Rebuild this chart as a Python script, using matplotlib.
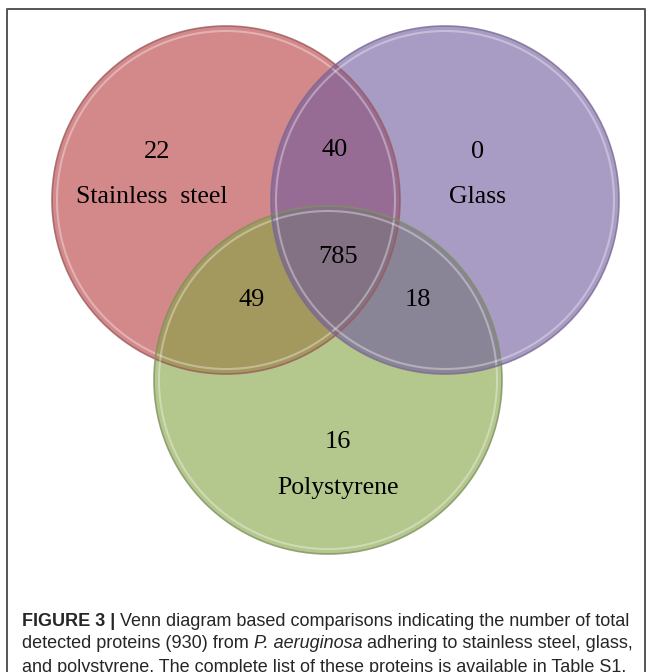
#Venn diagram of proteins found on the three surfaces.
import matplotlib.pyplot as plt
from matplotlib.patches import Circle

#set names and the region counts
sets = ["Stainless steel", "Glass", "Polystyrene"]
only_counts = [22, 0, 16]
pair_labels = ["ss_glass", "ss_ps", "glass_ps"]
pair_counts = [40, 49, 18]
all_count = 785

#layout in pixel coordinates of the 652x672 image
centres = [(226, 200), (445, 200), (328, 380)]
radius = 174
fills = ["#b7393d", "#6e5a9e", "#83a33f"]
edges = ["#9a5a5c", "#7a6a94", "#7f9060"]
draw_order = [0, 2, 1]
only_pos = [(157, 152), (478, 152), (338, 442)]
name_pos = [(152, 197), (478, 197), (338, 488)]
pair_pos = [(335, 150), (252, 300), (418, 300)]
all_pos = (338, 257)

fig = plt.figure(figsize=(6.52, 6.72), dpi=100)
ax = fig.add_axes([0, 0, 1, 1])
ax.set_xlim(0, 652)
ax.set_ylim(672, 0)
ax.axis("off")

#frame round the figure
ax.plot([7, 7, 645, 645], [672, 9, 9, 672], color="#555555", lw=1.4)

for i in draw_order:
    ax.add_patch(Circle(centres[i], radius, facecolor=fills[i], alpha=0.6,
                        edgecolor="none"))
for i in draw_order:
    ax.add_patch(Circle(centres[i], radius, fill=False, edgecolor=edges[i],
                        lw=1.2, alpha=0.8))
    ax.add_patch(Circle(centres[i], radius - 5, fill=False, edgecolor="white",
                        lw=1.5, alpha=0.35))

serif = "Liberation Serif"
for i in range(3):
    ax.text(*only_pos[i], str(only_counts[i]), ha="center", va="center",
            family=serif, fontsize=19)
    ax.text(*name_pos[i], sets[i].replace(" ", "  "), ha="center", va="center",
            family=serif, fontsize=18.5)
for i in range(3):
    ax.text(*pair_pos[i], str(pair_counts[i]), ha="center", va="center",
            family=serif, fontsize=19)
ax.text(*all_pos, str(all_count), ha="center", va="center",
        family=serif, fontsize=19)

#caption, built from pieces so bold and italic parts can be mixed
caption = [
    [("FIGURE 3 |", "bold", "normal"),
     (" Venn diagram based comparisons indicating the number of total", "normal", "normal")],
    [("detected proteins (930) from ", "normal", "normal"),
     ("P. aeruginosa", "normal", "italic"),
     (" adhering to stainless steel, glass,", "normal", "normal")],
    [("and polystyrene. The complete list of these proteins is available in Table S1.",
      "normal", "normal")],
]
renderer = fig.canvas.get_renderer()
inv = ax.transData.inverted()
line_y = [621, 644, 667]


def draw_caption(size):
    texts = []
    widest = 0
    for line, y in zip(caption, line_y):
        x = 22
        for txt, weight, style in line:
            t = ax.text(x, y, txt, ha="left", va="center", fontsize=size,
                        family="Liberation Sans", fontweight=weight,
                        fontstyle=style, color="#262626")
            texts.append(t)
            bb = t.get_window_extent(renderer)
            x = inv.transform((bb.x1, bb.y1))[0]
        widest = max(widest, x)
    return texts, widest


#fit the longest line to the width it has in the original
texts, widest = draw_caption(12)
for t in texts:
    t.remove()
draw_caption(12 * (633 - 22) / (widest - 22))

plt.savefig("out.png", dpi=100)
